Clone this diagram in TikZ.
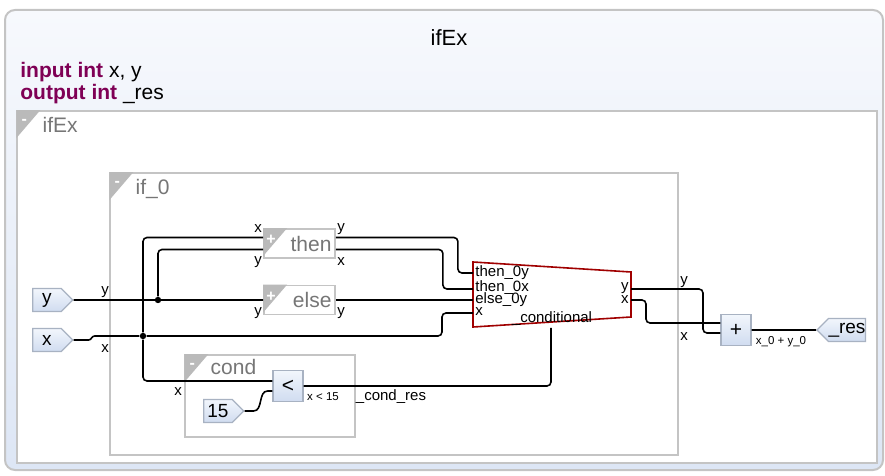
\documentclass[tikz,border=0pt]{standalone}
\usepackage{fontspec}
\setmainfont{Liberation Sans}
\usetikzlibrary{shapes.symbols, positioning, calc, fit}
\definecolor{framegray}{RGB}{196, 196, 196}
\definecolor{foldgray}{RGB}{186, 186, 186}
\definecolor{labelgray}{RGB}{118, 118, 118}
\definecolor{headtop}{RGB}{247, 249, 253}
\definecolor{headbot}{RGB}{221, 230, 245}
\definecolor{termtop}{RGB}{242, 246, 252}
\definecolor{termbot}{RGB}{208, 220, 240}
\definecolor{termline}{RGB}{168, 178, 194}
\definecolor{kwcolor}{RGB}{127, 0, 85}
\definecolor{muxred}{RGB}{160, 0, 0}

\begin{document}
\begin{tikzpicture}[
    x=0.5pt, y=-0.5pt,
    wire/.style={line width=0.8pt, rounded corners=2pt},
    grpframe/.style={draw=framegray, line width=0.75pt, fill=white, inner sep=0pt},
    grplabel/.style={anchor=base west, text=labelgray, inner sep=0pt, font=\fontsize{10.5}{12}\selectfont},
    sub/.style={draw=framegray, line width=0.9pt, fill=white, minimum height=14.5pt, text width=32pt, align=right, inner xsep=1.75pt, inner ysep=0pt, text=labelgray, font=\fontsize{10.5}{12}\selectfont},
    sign/.style={text=white, inner sep=0pt, font=\fontsize{8}{9}\selectfont\bfseries},
    term/.style={shape=signal, draw=termline, line width=0.6pt, top color=termtop, bottom color=termbot, minimum width=20pt, minimum height=11.5pt, inner sep=0pt, font=\fontsize{9.5}{11}\selectfont},
    op/.style={rectangle, draw=termline, line width=0.6pt, top color=termtop, bottom color=termbot, minimum width=15pt, minimum height=15.5pt, inner sep=0pt, font=\fontsize{10.5}{12}\selectfont},
    jdot/.style={circle, fill, inner sep=0pt, minimum size=3.2pt},
    port/.style={inner sep=0pt, font=\fontsize{7.5}{9}\selectfont},
    note/.style={inner sep=0pt, font=\fontsize{5.75}{7}\selectfont}
]
\useasboundingbox (0,0) rectangle (885,476);

% outer box with its header
\node[fit={(5,10) (883,470)}, inner sep=0pt, draw=framegray, line width=1pt, rounded corners=5pt, top color=headtop, bottom color=headbot] (outer) {};
\node[font=\fontsize{11}{13}\selectfont] (title) at (449,38) {ifEx};
\node[anchor=base west, inner sep=0pt, font=\fontsize{10.5}{12}\selectfont] (inp) at (20,78) {\textcolor{kwcolor}{\bfseries input int} x, y};
\node[anchor=base west, inner sep=0pt, font=\fontsize{10.5}{12}\selectfont] (outp) at (20,100) {\textcolor{kwcolor}{\bfseries output int} \_res};

% nested groups
\node[grpframe, fit={(17,111) (877,463)}] (ifex) {};
\node[grpframe, fit={(110,173) (678,455)}] (ifz) {};
\node[grpframe, fit={(185,355) (355,437)}] (cond) {};
\node[sub] (then) at (299.5,243.5) {then};
\node[sub] (else) at (299.5,300) {else};

\foreach \f/\s in {ifex/-, ifz/-, cond/-, then/+, else/+} {
    \fill[foldgray] (\f.north west) -- ++(12pt,0pt) -- ++(-12pt,-14pt) -- cycle;
    \node[sign] (sg-\f) at ([shift={(4pt,-6pt)}]\f.north west) {\s};
}
\node[grplabel] (ifexlbl) at ([shift={(13pt,-11pt)}]ifex.north west) {ifEx};
\node[grplabel] (ifzlbl) at ([shift={(13pt,-11pt)}]ifz.north west) {if\_0};
\node[grplabel] (condlbl) at ([shift={(13pt,-10pt)}]cond.north west) {cond};

% terminals and operators
\node[term] (yin) at (47,300) {y};
\node[term] (xin) at (47,340) {x};
\node[term] (fifteen) at (218,411) {15};
\node[term, signal to=west] (res) at (847,330) {\_res};
\node[op] (less) at (288,386) {<};
\node[op] (plus) at (736,330) {+};
\node[jdot] (ydot) at (158,300) {};
\node[jdot] (xdot) at (143,336) {};

% conditional block
\coordinate (mux-ty) at (473,273);
\coordinate (mux-tx) at (473,289);
\coordinate (mux-ey) at (473,300);
\coordinate (mux-x) at (473,313);
\coordinate (mux-oy) at (631,289);
\coordinate (mux-ox) at (631,300);
\coordinate (mux-c) at (551,328);
\draw[muxred, line width=0.8pt, fill=white] (473,262) -- (631,272) -- (631,317) -- (473,327) -- cycle;

% wires
\draw[wire] (yin) -- (else);
\draw[wire] (ydot) |- ([yshift=-3pt]then.west);
\draw[line width=0.8pt] (xin.east) -- ++(15,0) to[out=0,in=180] ++(6,-4) -- (xdot);
\draw[wire] (xdot) -| ([xshift=-15.5pt]mux-x) -- (mux-x);
\draw[wire] ([yshift=3pt]then.west) -| (xdot) |- ([yshift=2.5pt]less.west);
\draw[line width=0.8pt] (fifteen.east) -- ++(9,0) to[out=0,in=180] ++(14,-20) -- ([yshift=-2.5pt]less.west);
\draw[wire] (less) -| (mux-c);
\draw[wire] ([yshift=3pt]then.east) -- ++(122,0) |- (mux-ty);
\draw[wire] ([yshift=-3pt]then.east) -- ++(107,0) |- (mux-tx);
\draw[wire] (else) -- (mux-ey);
\draw[wire] (mux-oy) -- ++(72,0) |- ([yshift=-1.5pt]plus.west);
\draw[wire] (mux-ox) -- ++(15,0) |- ([yshift=3.5pt]plus.west);
\draw[wire] (plus) -- (res);

% port names
\node[port] (py-in) at (105,292) {y};
\node[port] (px-in) at (105,349) {x};
\node[port] (pt-x) at (258,229) {x};
\node[port] (pt-y) at (258,262) {y};
\node[port] (pt-oy) at (341,229) {y};
\node[port] (pt-ox) at (341,262) {x};
\node[port] (pe-y) at (258,313) {y};
\node[port] (pe-oy) at (341,313) {y};
\node[port] (pc-x) at (178,392) {x};
\node[port, anchor=west] (pm-ty) at (475,273) {then\_0y};
\node[port, anchor=west] (pm-tx) at (475,288) {then\_0x};
\node[port, anchor=west] (pm-ey) at (475,300) {else\_0y};
\node[port, anchor=west] (pm-x) at (475,312) {x};
\node[port, anchor=east] (pm-oy) at (629,288) {y};
\node[port, anchor=east] (pm-ox) at (629,300) {x};
\node[port, anchor=base] (muxlbl) at (552,322) {\_conditional};
\node[port] (po-y) at (684,282) {y};
\node[port] (po-x) at (684,337) {x};
\node[note] (lessout) at (323,397) {x < 15};
\node[port] (condres) at (391,397) {\_cond\_res};
\node[note] (plusout) at (781,342) {x\_0 + y\_0};

\end{tikzpicture}
\end{document}
